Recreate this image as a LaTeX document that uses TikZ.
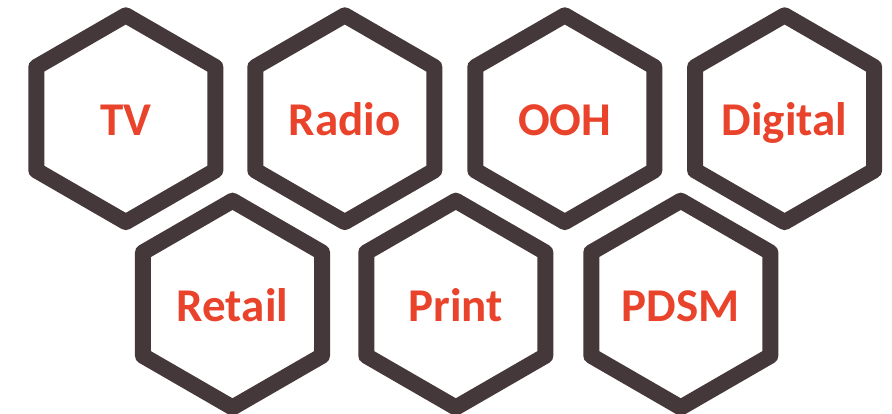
\documentclass[tikz,border=0pt]{standalone}
\usepackage{fontspec}
\setmainfont{Carlito}
\definecolor{hexstroke}{HTML}{45383A}
\definecolor{hextext}{HTML}{E9432C}
\tikzset{
  hexline/.style={draw=hexstroke, line width=16pt, line join=round},
  hexlabel/.style={text=hextext, font=\fontsize{47}{50}\selectfont\bfseries, inner sep=0pt, anchor=base}
}
\newcommand\hexagonat[3]{%
  \draw[hexline] (#1) +(90:103.4pt) -- +(150:103.4pt) -- +(210:103.4pt) -- +(270:103.4pt) -- +(330:103.4pt) -- +(30:103.4pt) -- cycle;
  \node[hexlabel] (#2) at ([yshift=-17pt]#1) {#3};
}
\begin{document}
\begin{tikzpicture}[x=1pt,y=1pt]
\useasboundingbox (0,0) rectangle (892,414);
\coordinate (cTV) at (125.8,295.3);
\coordinate (cRadio) at (344.8,295.3);
\coordinate (cOOH) at (564.8,295.3);
\coordinate (cDigital) at (784.6,295.3);
\coordinate (cRetail) at (232.5,109.9);
\coordinate (cPrint) at (455.8,109.9);
\coordinate (cPDSM) at (680.8,109.9);
\hexagonat{cTV}{tv}{TV}
\hexagonat{cRadio}{radio}{Radio}
\hexagonat{cOOH}{ooh}{OOH}
\hexagonat{cDigital}{digital}{Digital}
\hexagonat{cRetail}{retail}{Retail}
\hexagonat{cPrint}{print}{Print}
\hexagonat{cPDSM}{pdsm}{PDSM}
\end{tikzpicture}
\end{document}
